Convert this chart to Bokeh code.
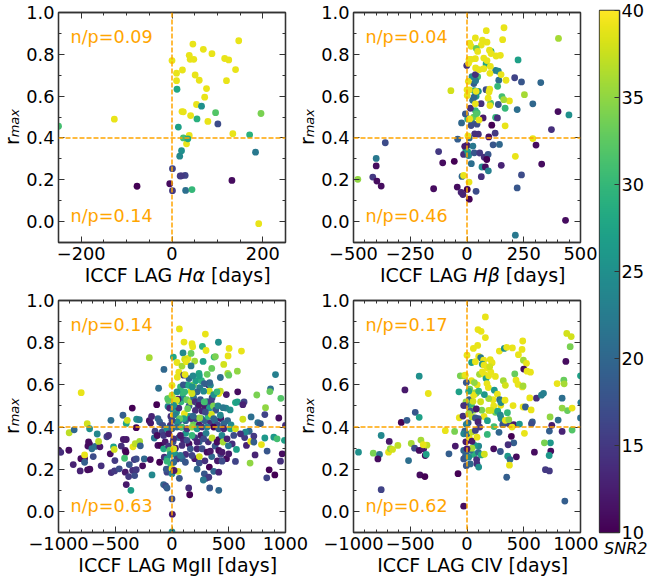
import numpy as np
from bokeh.embed import file_html
from bokeh.resources import INLINE
from bokeh.plotting import figure
from bokeh.layouts import row, column
from bokeh.models import (ColumnDataSource, CustomLabelingPolicy, FixedTicker, Label, LinearAxis, LinearColorMapper, Range1d, Span)
from bokeh.palettes import Viridis256

# (lag in days, r_max, SNR2)
ha_points = [
(-127,.49,39),(0,.77,39),(10,.71,39),(10,.674,39),(23,.725,39),(46,.849,39),(69,.824,39),(88,.803,39),(38,.795,39),(40,.776,39),
(48,.776,39),(116,.78,39),(125,.773,39),(147,.865,39),(140,.727,39),(120,.674,39),(51,.701,39),(60,.676,39),(76,.636,39),(72,.595,39),
(54,.56,39),(22,.526,39),(25,.525,39),(41,.507,39),(79,.479,39),(134,.42,39),(38,.412,39),(32,.372,39),(191,-.01,39),
(11,.633,28),(65,.552,25),(96,.521,32),(196,.517,34),(55,.491,29),(14,.452,27),(-250,.456,31),(171,.415,29),(25,.40,31),(35,.396,28),
(21,.339,25),(17,.313,24),(184,.332,22),(101,.467,17),(1,.253,16),(29,.221,16),(21,.219,15),(18,.218,15),(-5,.181,11),(-77,.169,10),
(1,.148,15),(30,.149,21),(44,.153,30),(132,.197,11),
]
hb_points = [
(20,.48,20),(30,.5,33),(-5,.34,27),(10,.4,20),(25,.58,21),(40,.6,27),(-10,.36,12),(45,.52,31),(30,.66,19),
(106,.814,28),(225,.773,27),(84,.754,28),(126,.723,23),(138,.719,24),(47,.693,31),(22,.693,24),(38,.674,22),(140,.676,21),(135,.647,30),
(32,.626,27),(50,.623,25),(154,.598,31),(253,.607,36),(168,.542,30),(31,.595,20),(37,.531,30),(41,.515,32),(126,.498,30),(3,.491,29),
(104,.566,32),(449,.51,25),(221,.536,21),(290,.563,20),(325,.665,20),(240,.668,18),(210,.688,16),(-1,.746,14),(37,.703,14),(84,.631,17),
(62,.564,14),(138,.56,18),(15,.542,14),(-7,.515,18),(134,.496,14),(71,.496,12),(-24,.472,20),(18,.459,17),(44,.466,17),(109,.461,10),
(34,.42,14),(50,.418,14),(124,.423,15),(96,.405,11),(372,.44,14),(401,.526,11),(-41,.394,19),(-360,.377,17),(-400,.302,22),(-400,.266,11),
(-415,.213,15),(-397,.194,11),(-378,.17,11),(-481,.202,35),(-125,.335,15),(-107,.281,11),(-56,.288,10),(-147,.157,11),(-43,.165,11),(-26,.14,13),
(-18,.129,13),(1,.154,10),(10,.107,10),(40,.145,17),(-22,.216,20),(-15,.321,14),(0,.364,12),(3,.335,27),(7,.316,24),(26,.361,22),
(19,.277,21),(32,.329,18),(56,.328,15),(76,.308,14),(93,.321,18),(87,.297,10),(66,.261,24),(81,.261,11),(94,.243,23),(63,.215,14),
(115,.367,18),(143,.369,20),(151,.269,13),(304,.366,11),(329,.275,11),(240,.223,17),(221,.161,18),(434,.006,11),(213,-.065,22),
(163,.927,39),(85,.913,39),(157,.87,39),(403,.876,36),(37,.878,39),(68,.868,39),(88,.858,39),(12,.854,39),(18,.838,39),(63,.844,39),
(41,.828,33),(47,.814,39),(99,.82,39),(106,.804,39),(147,.795,39),(128,.792,39),(74,.782,39),(88,.77,39),(37,.779,39),(19,.776,39),
(9,.776,39),(7,.757,39),(103,.742,39),(38,.735,39),(54,.727,39),(74,.731,39),(101,.709,39),(150,.703,39),(172,.676,39),(6,.671,39),
(100,.633,39),(97,.62,39),(-71,.626,38),(0,.63,39),(10,.63,39),(40,.623,39),(1,.603,39),(93,.59,39),(187,.577,39),(162,.583,36),
(101,.555,39),(37,.563,39),(12,.491,39),(53,.486,39),(168,.458,39),(4,.41,39),(290,.397,39),(213,.312,39),(9,.189,39),(-15,.221,39),
]
mg_points = [
(-1000,.29,11),(-980,.28,14),(-909,.29,11),(-870,.222,13),(-809,.192,13),(-803,.25,11),(-770,.25,11),(-770,.233,19),(-735,.329,11),(-726,.319,11),
(-741,.31,11),(-706,.297,21),(-676,.308,21),(-694,.26,17),(-724,.2,11),(-744,.197,11),(-624,.216,14),(-635,.306,12),(-647,.332,37),(-906,.373,37),
(-862,.387,20),(-747,.416,38),(-726,.392,25),(-659,.367,24),(-800,.563,39),(-770,.268,39),(-574,.354,16),(-559,.36,14),(-538,.432,21),(-544,.273,11),
(-515,.306,27),(-509,.294,38),(-503,.241,15),(-535,.184,14),(-506,.192,15),(-465,.202,17),(-447,.31,14),(-432,.456,19),(-403,.417,28),(-394,.432,38),
(-429,.341,12),(-403,.341,12),(-412,.289,12),(-406,.281,10),(-418,.252,31),(-412,.186,12),(-376,.222,18),(-382,.165,15),(-403,.127,12),(-362,.1,27),
(-350,.49,10),(-312,.437,25),(-288,.435,23),(-315,.397,10),(-344,.306,39),(-324,.321,37),(-285,.332,36),(-279,.311,19),(-332,.246,15),(-315,.249,17),
(-347,.194,14),(-329,.17,17),(-315,.198,15),(-259,.216,11),(-244,.249,20),(-200,.43,11),(-188,.419,12),(-200,.729,36),(-191,.246,11),(-156,.348,22),
(-176,.173,24),(-109,.233,10),(-124,.44,20),(-109,.424,19),(-135,.506,10),(-118,.584,21),(-71,.673,20),(-124,.313,11),(-97,.313,10),(-88,.376,17),
(-74,.297,28),(-68,.257,14),(-44,.249,25),(-44,.238,30),(-44,.186,16),(-74,.127,20),(-56,.121,17),(-44,.111,19),(-35,.498,24),(-29,.535,38),
(-20,.49,13),(-10,.45,14),(10,.48,22),(25,.51,39),(40,.47,28),(60,.49,14),(80,.52,30),(95,.54,24),(130,.53,33),(150,.5,19),
(165,.52,36),(190,.54,21),(205,.52,14),(230,.5,28),(250,.53,18),(270,.49,37),(290,.5,12),(310,.52,20),(330,.49,26),(345,.52,15),
(365,.5,34),(385,.48,18),(405,.5,24),(60,.43,18),(80,.4,13),(120,.43,20),(150,.45,27),(190,.42,33),(210,.44,16),(240,.41,12),
(260,.44,25),(290,.43,19),(320,.45,30),(340,.42,14),(380,.43,22),(400,.41,17),(430,.44,12),(490,.43,20),(520,.41,24),(-60,.33,12),
(-30,.31,15),(10,.33,18),(30,.3,12),(60,.35,20),(100,.34,13),(120,.37,26),(150,.32,11),(200,.35,15),(240,.33,20),(255,.36,12),
(300,.37,23),(320,.33,14),(380,.31,18),(410,.34,11),(440,.36,24),(530,.32,14),(640,.35,15),(680,.38,20),(-150,.38,16),(-130,.36,11),
(-180,.45,13),(130,.6,28),(150,.63,20),(190,.6,34),(210,.62,27),(60,.66,39),(75,.59,30),(100,.6,18),(260,.62,29),(310,.65,33),
(320,.6,12),(120,.27,14),(90,.25,20),(200,.25,12),(240,.23,17),(290,.24,14),(350,.26,20),(400,.24,12),(430,.27,16),(480,.25,11),
(30,.27,26),(-20,.29,32),(-10,.22,30),(-50,.2,18),(-15,.27,25),
(0,.059,17),(3,-.014,12),(0,-.097,24),(12,.732,28),(0,.598,39),(44,.706,39),(65,.865,39),(106,.803,39),(97,.751,24),(88,.689,36),
(141,.725,39),(112,.722,38),(126,.71,39),(168,.749,33),(176,.795,39),(182,.781,39),(268,.782,29),(294,.841,39),(300,.763,39),(409,.802,25),
(371,.732,30),(382,.734,34),(503,.773,39),(494,.737,39),(612,.76,39),(456,.697,38),(491,.654,36),(500,.646,33),(576,.665,35),(350,.678,33),
(274,.711,27),(200,.713,36),(168,.69,22),(238,.654,28),(241,.643,27),(103,.646,15),(115,.649,39),(47,.636,39),(185,.643,24),(426,.635,21),
(912,.649,23),(868,.581,21),(862,.568,33),(959,.536,32),(747,.552,34),(824,.492,35),(818,.459,16),(941,.443,11),(1000,.408,14),(838,.286,18),
(971,.273,11),(956,.238,14),(856,.197,10),(906,.173,10),(835,.159,16),(688,.229,35),(732,.268,13),(656,.313,13),(694,.332,39),(788,.317,39),
(818,.348,26),(897,.352,26),(926,.344,31),(991,.337,27),(721,.329,19),(721,.357,15),(756,.421,21),(779,.416,19),(697,.448,21),(624,.437,38),
(647,.376,24),(559,.516,28),(576,.519,27),(635,.519,16),(624,.506,13),(479,.554,12),(579,.567,11),(512,.481,25),(476,.49,24),(450,.492,22),
(426,.57,37),(412,.559,39),(338,.598,24),(329,.57,38),(332,.611,20),(285,.606,19),(244,.587,22),(279,.57,24),(221,.567,20),(168,.571,38),
(176,.559,38),(147,.598,28),(179,.59,25),(94,.563,30),(112,.567,30),(53,.532,12),(21,.527,37),(41,.527,38),(15,.503,25),(-32,.527,33),
(-38,.535,32),(0,.551,37),(44,.567,25),(12,.456,39),(29,.459,23),(109,.463,39),(138,.487,33),(235,.503,12),(265,.476,13),(285,.519,31),
(353,.538,16),(368,.554,25),(397,.567,30),(244,.443,35),(347,.46,38),(368,.44,20),(426,.456,24),(456,.416,20),(294,.471,17),(168,.44,14),
(206,.479,14),(185,.452,20),(103,.44,28),(68,.44,33),(44,.424,25),(0,.432,16),(-15,.408,14),(-82,.408,17),(-44,.392,25),(0,.392,19),
(44,.4,21),(88,.4,31),(132,.392,15),(176,.4,35),(221,.392,26),(265,.4,14),(309,.4,23),(368,.4,10),(412,.392,20),(456,.392,13),
(515,.392,27),(559,.392,38),(-74,.36,15),(-29,.368,12),(15,.344,14),(74,.36,12),(132,.337,17),(176,.36,30),(221,.329,13),(279,.344,17),
(353,.348,37),(397,.329,11),(450,.329,36),(485,.344,13),(544,.36,17),(603,.368,14),(15,.297,38),(88,.313,14),(162,.297,18),(221,.297,13),
(265,.297,17),(309,.281,11),(338,.286,12),(412,.289,11),(441,.281,12),(497,.311,22),(568,.294,27),(500,.273,12),(441,.238,17),(559,.237,16),
(241,.26,38),(176,.265,16),(118,.233,18),(44,.249,16),(74,.265,22),(15,.233,20),(329,.21,10),(368,.19,20),(412,.186,13),(285,.178,18),
(300,.157,17),(324,.162,15),(276,.149,22),(221,.2,20),(332,.111,18),(412,.1,20),(147,.111,14),(156,.079,10),(65,.157,18),(53,.19,38),
(0,.202,39),(0,.178,24),(18,.194,12),
]
civ_points = [
(20,.53,19),(25,.58,33),(40,.5,30),(60,.48,35),(80,.56,32),(120,.52,38),(150,.45,39),(180,.43,27),(40,.62,39),(90,.6,39),
(100,.44,18),(130,.48,34),(10,.42,18),(-20,.38,19),(-10,.33,12),(20,.35,39),(-10,.27,18),(60,.27,29),(100,.28,21),(30,.29,21),
(205,.72,39),(250,.64,39),(230,.53,39),(300,.44,24),(320,.62,36),(250,.47,33),(180,.68,39),(210,.66,39),(110,.65,36),
(-956,.281,25),(-826,.276,34),(-771,.27,22),(-785,.249,11),(-756,.103,16),(-756,.36,24),(-685,.332,12),(-691,.281,39),(-676,.297,35),(-656,.294,38),
(-609,.313,37),(-579,.422,10),(-547,.576,12),(-529,.432,19),(-515,.241,21),(-491,.322,36),(-462,.3,17),(-456,.47,18),(-421,.641,25),(-421,.446,27),
(-406,.338,36),(-421,.289,11),(-382,.297,12),(-368,.265,11),(-359,.27,27),(-353,.314,37),(-385,.316,39),(-415,.173,11),(-371,.165,10),(-341,.559,39),
(-191,.383,39),(-109,.379,34),(-159,.273,19),(-103,.31,12),(-79,.179,10),(-29,.025,11),(-71,.567,27),(-59,.643,34),(-68,.444,39),(-29,.643,36),
(-15,.646,39),(-6,.611,18),(0,.741,39),(41,.706,27),(56,.773,39),(94,.787,39),(97,.862,39),(124,.854,39),(162,.922,39),(162,.824,39),
(103,.735,39),(121,.729,22),(147,.717,39),(74,.71,39),(135,.698,25),(150,.694,39),(221,.705,39),(200,.686,38),(285,.76,39),(329,.773,25),
(350,.778,39),(400,.775,39),(453,.743,39),(491,.808,39),(485,.768,39),(497,.717,36),(524,.702,39),(500,.675,11),(529,.665,39),(559,.66,39),
(421,.652,33),(432,.622,39),(450,.602,39),(488,.59,39),(494,.595,36),(338,.598,38),(135,.662,39),(153,.649,39),(168,.63,27),(191,.643,39),
(176,.606,39),(188,.587,39),(241,.575,26),(268,.556,39),(191,.535,36),(153,.554,26),(74,.563,36),(59,.551,39),(15,.57,28),(-9,.519,35),
(53,.522,38),(103,.57,30),(65,.611,35),(-9,.503,20),(-29,.502,14),(-35,.452,14),(29,.475,18),(82,.486,12),(15,.463,36),(44,.448,37),
(74,.443,18),(97,.424,13),(-6,.413,23),(-29,.368,24),(0,.368,21),(44,.376,37),(74,.384,16),(112,.4,15),(179,.365,30),(238,.402,31),
(282,.375,20),(315,.411,18),(368,.416,16),(412,.411,12),(397,.4,39),(462,.414,26),(506,.37,39),(391,.356,10),(412,.325,19),(362,.316,14),
(235,.297,11),(294,.284,18),(435,.259,11),(359,.262,26),(379,.246,20),(374,.219,39),(350,.162,19),(594,.281,11),(738,.286,11),(735,.325,26),
(682,.325,34),(726,.381,19),(724,.265,26),(691,.198,15),(726,.192,15),(862,.049,19),(732,.448,35),(803,.433,21),(747,.408,12),(838,.379,13),
(926,.386,32),(885,.478,33),(838,.49,35),(926,.49,39),(1003,.516,22),(1000,.443,21),(838,.537,21),(794,.606,39),(853,.622,33),(856,.605,36),
(871,.711,11),(879,.844,38),(918,.829,38),(909,.781,34),(1000,.643,27),(612,.537,14),(656,.551,23),(674,.56,23),(553,.538,39),(494,.495,39),
(515,.495,19),(565,.481,39),(576,.424,19),(568,.416,17),(406,.502,39),(297,.503,39),(235,.5,39),(212,.479,38),(191,.479,38),(271,.475,28),
(294,.456,24),(356,.468,30),(288,.53,21),(300,.516,24),(335,.527,39),(338,.432,39),(368,.435,35),(-29,.289,20),(-15,.257,20),(-29,.249,18),
(-6,.217,18),(15,.257,24),(29,.225,20),(85,.246,14),(88,.225,14),(103,.21,25),(126,.268,28),(153,.271,38),(103,.31,24),(68,.313,26),
(44,.3,36),(0,.297,12),(44,.333,12),(88,.352,39),
]

ha_x_ticks = [-200, 0, 200]
ha_x_labels = ["\u2212200", "0", "200"]
ha_x_minor = [-250, -150, -100, -50, 50, 100, 150, 250]
hb_x_ticks = [-500, -250, 0, 250, 500]
hb_x_labels = ["\u2212500", "\u2212250", "0", "250", "500"]
hb_x_minor = [-450, -400, -350, -300, -200, -150, -100, -50, 50, 100, 150, 200, 300, 350, 400, 450]
wide_x_ticks = [-1000, -500, 0, 500, 1000]
wide_x_labels = ["\u22121000", "\u2212500", "0", "500", "1000"]
wide_x_minor = [-900, -800, -700, -600, -400, -300, -200, -100, 100, 200, 300, 400, 600, 700, 800, 900]
y_ticks = [0.0, 0.2, 0.4, 0.6, 0.8, 1.0]
y_labels = ["0.0", "0.2", "0.4", "0.6", "0.8", "1.0"]
y_minor = [-0.1, 0.1, 0.3, 0.5, 0.7, 0.9]
cb_ticks = [10, 15, 20, 25, 30, 35, 40]

FONT = "DejaVu Sans"
EDGE = "#333333"
ORANGE = "#FFA500"
mapper = LinearColorMapper(palette=Viridis256, low=10, high=40)
no_labels = CustomLabelingPolicy(code="for (const i of [...indices]) indices.unset(i); return indices;")


def style_axis(ax, ticks, minor, labels=None):
    ax.ticker = FixedTicker(ticks=ticks, minor_ticks=minor)
    ax.major_tick_in = 6
    ax.major_tick_out = 0
    ax.minor_tick_in = 3
    ax.minor_tick_out = 0
    ax.major_tick_line_color = EDGE
    ax.minor_tick_line_color = EDGE
    ax.axis_line_color = EDGE
    ax.axis_line_width = 1.3
    if labels is None:
        ax.major_label_policy = no_labels
        ax.major_label_standoff = 0
    else:
        ax.major_label_overrides = {t: l for t, l in zip(ticks, labels)}
        ax.major_label_text_font = FONT
        ax.major_label_text_font_size = "17.8px"
        ax.major_label_text_color = "black"
        ax.major_label_standoff = 4


def panel(points, half, xt, xl, xm, np_top, np_bot, width, height, left, right, top, bottom, margin=None):
    kw = {} if margin is None else {"margin": margin}
    p = figure(width=width, height=height, x_range=Range1d(-half, half), y_range=Range1d(-0.1, 1.0),
               output_backend="svg", toolbar_location=None, x_axis_location=None, y_axis_location=None,
               min_border_left=left, min_border_right=right, min_border_top=top, min_border_bottom=bottom,
               border_fill_color=None, background_fill_color=None, **kw)
    p.grid.visible = False
    p.outline_line_color = EDGE
    p.outline_line_width = 1.3
    for side, ticks, minor, labels in (("below", xt, xm, xl), ("above", xt, xm, None)):
        ax = LinearAxis()
        style_axis(ax, ticks, minor, labels)
        p.add_layout(ax, side)
    for side, labels in (("left", y_labels), ("right", None)):
        ax = LinearAxis()
        style_axis(ax, y_ticks, y_minor, labels)
        p.add_layout(ax, side)

    lag, r, snr = zip(*points)
    src = ColumnDataSource(dict(lag=list(lag), r=list(r), snr=list(snr)))
    p.scatter("lag", "r", source=src, size=6.8, line_color=None,
              fill_color={"field": "snr", "transform": mapper})
    p.add_layout(Span(location=0, dimension="height", line_color=ORANGE, line_dash="5 2", line_width=1.5))
    p.add_layout(Span(location=0.4, dimension="width", line_color=ORANGE, line_dash="5 2", line_width=1.5))

    tx = -half + 0.053 * 2 * half
    for txt, yy in ((np_top, 0.883), (np_bot, 0.026)):
        p.add_layout(Label(x=tx, y=yy, text=txt, text_color=ORANGE, text_font=FONT, text_font_size="17.6px",
                           text_baseline="middle", text_align="left"))
    return p


p1 = panel(ha_points, 250, ha_x_ticks, ha_x_labels, ha_x_minor, "n/p=0.09", "n/p=0.14",
           312, 288, 58, 27, 12, 46, margin=(0, -17, 0, 0))
p2 = panel(hb_points, 500, hb_x_ticks, hb_x_labels, hb_x_minor, "n/p=0.04", "n/p=0.46",
           303, 288, 58, 18, 12, 46)
p3 = panel(mg_points, 1000, wide_x_ticks, wide_x_labels, wide_x_minor, "n/p=0.14", "n/p=0.63",
           312, 288, 58, 27, 12, 44, margin=(0, -17, 0, 0))
p4 = panel(civ_points, 1000, wide_x_ticks, wide_x_labels, wide_x_minor, "n/p=0.17", "n/p=0.62",
           303, 288, 58, 18, 12, 44)

cb = figure(width=49, height=576, x_range=Range1d(0, 1), y_range=Range1d(10, 40), output_backend="svg",
            toolbar_location=None, x_axis_location=None, y_axis_location=None,
            min_border_left=1, min_border_right=28, min_border_top=10, min_border_bottom=44,
            border_fill_color=None)
cb.grid.visible = False
cb.outline_line_color = EDGE
cb.outline_line_width = 1.3
cb.image(image=[np.linspace(10, 40, 256).reshape(-1, 1)], x=0, y=10, dw=1, dh=30, color_mapper=mapper)
cb_ax = LinearAxis()
style_axis(cb_ax, cb_ticks, [], [str(t) for t in cb_ticks])
cb_ax.major_tick_in = 5
cb_ax.major_label_standoff = 2
cb.add_layout(cb_ax, "right")

# transparent sheet over the page, in page pixels, for the mixed-style axis titles
sheet = figure(width=647, height=576, x_range=Range1d(0, 647), y_range=Range1d(576, 0), output_backend="svg",
               toolbar_location=None, x_axis_location=None, y_axis_location=None,
               min_border_left=0, min_border_right=0, min_border_top=0, min_border_bottom=0,
               border_fill_color=None, background_fill_color=None, outline_line_color=None,
               margin=(-576, 0, 0, 0))
sheet.grid.visible = False


def sheet_text(x, y, text, size=19, italic=False, angle=0.0):
    sheet.add_layout(Label(x=x, y=y, text=text, angle=angle, text_font=FONT, text_font_size=f"{size}px",
                           text_font_style="italic" if italic else "normal", text_color="black",
                           text_baseline="alphabetic", text_align="left"))


FS = 19
x_titles = [
    (171.5, 274.5, "ICCF LAG", "H\u03b1", 1.41, ""),
    (466.5, 274.5, "ICCF LAG", "H\u03b2", 1.39, ""),
    (171.5, 564.5, "ICCF LAG MgII", "", 0.0, "MgII"),
    (466.5, 564.5, "ICCF LAG CIV", "", 0.0, "CIV"),
]
for cx, base, plain, ital, w_it, extra in x_titles:
    w_left = 4.918 + {"": 0.0, "MgII": 2.088, "CIV": 1.677}[extra]
    x0 = cx - (w_left + w_it + 2.859) * FS / 2
    sheet_text(x0, base, plain)
    if ital:
        sheet_text(x0 + w_left * FS, base, ital, italic=True)
    sheet_text(x0 + (w_left + w_it + 0.318) * FS, base, "[days]")

for lx, cy in ((11.7, 127), (306.7, 127), (11.7, 416), (306.7, 416)):
    sheet_text(lx, cy + 17.4, "r", angle=np.pi / 2)
    sheet_text(lx + 2.7, cy + 9.8, "max", size=13, italic=True, angle=np.pi / 2)
sheet_text(603.5, 548, "SNR2", size=16, italic=True)

charts = row(column(row(p1, p2), row(p3, p4)), cb)
layout = column(charts, sheet)
open("out.html", "w").write(file_html(layout, INLINE))
